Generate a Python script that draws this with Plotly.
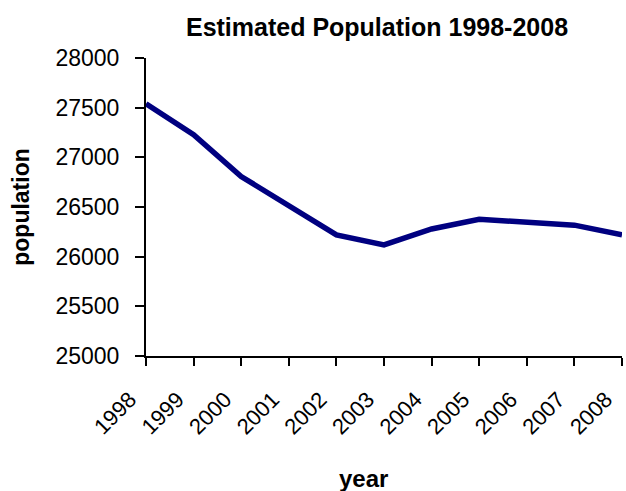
import plotly.graph_objects as go

years = ["1998", "1999", "2000", "2001", "2002", "2003", "2004", "2005", "2006", "2007", "2008"]
population = [27540, 27227, 26807, 26514, 26219, 26118, 26279, 26377, 26353, 26317, 26219]
y_ticks = [25000, 25500, 26000, 26500, 27000, 27500, 28000]

FONT = "Liberation Sans, Arial, sans-serif"

W, H = 626, 491
L, R, T, B = 146, 4, 58, 135
plot_w = W - L - R
plot_h = H - T - B

fig = go.Figure(
    go.Scatter(
        x=years,
        y=population,
        mode="lines",
        line=dict(color="#000080", width=5.5),
        hoverinfo="skip",
    )
)

fig.update_layout(
    width=W,
    height=H,
    margin=dict(l=L, r=R, t=T, b=B),
    paper_bgcolor="white",
    plot_bgcolor="white",
    showlegend=False,
    font=dict(family=FONT, color="black"),
    title=dict(
        text="<b>Estimated Population 1998-2008</b>",
        x=377 / W,
        xanchor="center",
        xref="container",
        y=1 - 27 / H,
        yref="container",
        yanchor="middle",
        font=dict(size=25, family=FONT, color="black"),
    ),
    annotations=[
        dict(
            text="<b>year</b>",
            xref="paper",
            yref="paper",
            x=(363 - L) / plot_w,
            y=-(478 - (T + plot_h)) / plot_h,
            xanchor="center",
            yanchor="middle",
            showarrow=False,
            font=dict(size=24, family=FONT, color="black"),
        )
    ],
)

fig.update_xaxes(
    type="category",
    range=[0, len(years) - 1],
    showline=True,
    linecolor="black",
    linewidth=2,
    ticks="outside",
    ticklen=8,
    tickwidth=2,
    tickcolor="black",
    tickangle=-45,
    ticklabelshift=-16,
    ticklabelstandoff=12,
    tickfont=dict(size=22, family=FONT),
    showgrid=False,
    zeroline=False,
)

fig.update_yaxes(
    range=[25000, 28000],
    tickvals=y_ticks,
    ticktext=[str(v) for v in y_ticks],
    showline=True,
    linecolor="black",
    linewidth=2,
    ticks="outside",
    ticklen=9,
    tickwidth=2,
    tickcolor="black",
    ticklabelstandoff=11,
    tickfont=dict(size=23, family=FONT),
    showgrid=False,
    zeroline=False,
    title=dict(text="<b>population</b>", font=dict(size=23, family=FONT), standoff=19),
)

fig.write_html(
    "out.html",
    config={"displayModeBar": False},
    post_script="document.body.style.margin='0';",
)
